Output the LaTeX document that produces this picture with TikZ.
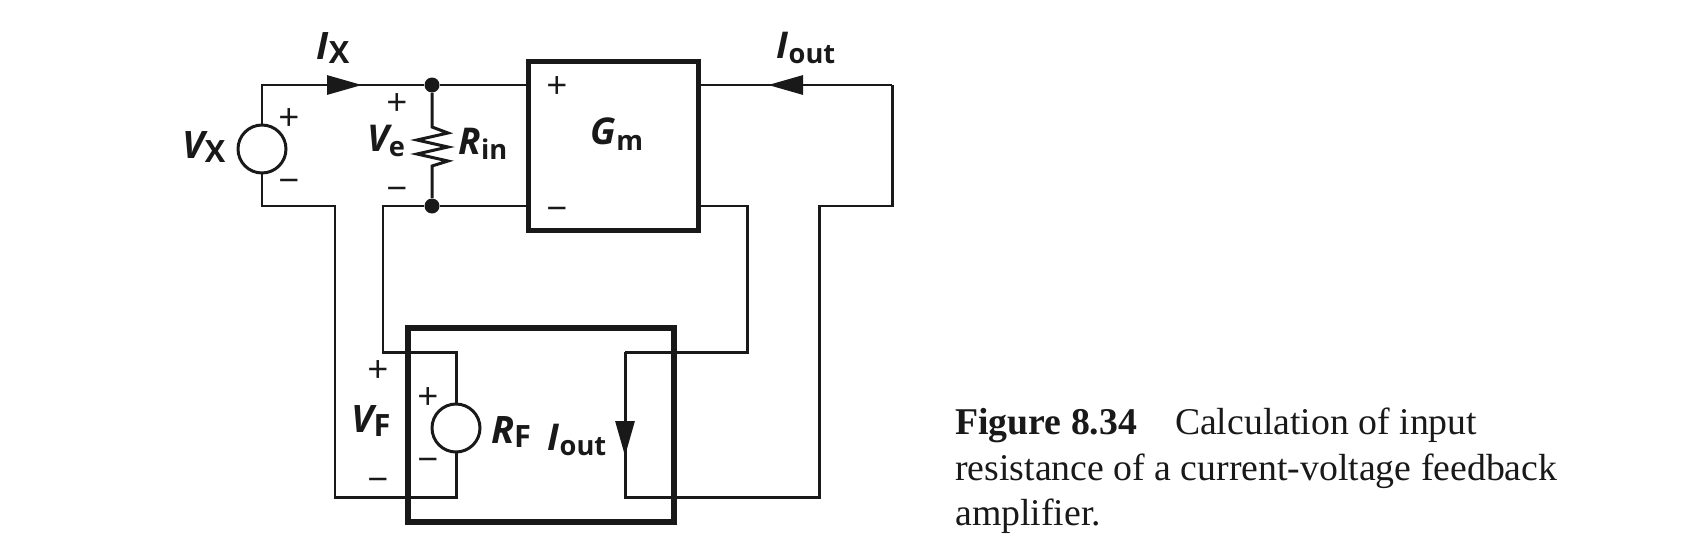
\documentclass[tikz,border=0pt]{standalone}
\usepackage{fontspec}
\setmainfont{Liberation Serif}
\newfontfamily\labelfont{Open Sans}
\usetikzlibrary{arrows.meta}

\newcommand{\symlabel}[2]{{\fontsize{21.5}{21.5}\selectfont\labelfont\bfseries\itshape #1}\raisebox{-0.28em}{\fontsize{17.5}{17.5}\selectfont\labelfont\bfseries #2}}
\newcommand{\symlabellow}[2]{{\fontsize{21}{21}\selectfont\labelfont\bfseries\itshape #1}\raisebox{-0.3em}{\fontsize{15.5}{15.5}\selectfont\labelfont\bfseries #2}}

\tikzstyle{wire} = [line width=1.7pt, line join=miter]
\tikzstyle{arrow} = [wire, -{Triangle[length=0.7cm,width=0.38cm]}]
\tikzstyle{block} = [rectangle, draw=black!90, line width=2.9pt]
\tikzstyle{srccircle} = [circle, draw=black!90, line width=1.7pt, minimum size=0.96cm, inner sep=0pt]
\tikzstyle{joint} = [circle, fill=black!90, minimum size=0.3cm, inner sep=0pt]
\tikzstyle{symname} = [inner sep=0pt, text=black!90]
\tikzstyle{signlabel} = [inner sep=0pt, text=black!90, font=\fontsize{21}{21}\selectfont\labelfont]

\begin{document}
\begin{tikzpicture}[x=0.02cm, y=-0.02cm, black!90]
\useasboundingbox (0,0) rectangle (1686,558);

\node (gm) [block, minimum width=3.4cm, minimum height=3.38cm] at (613.5,146) {};

\node (fb) [block, minimum width=5.32cm, minimum height=3.88cm] at (541,425) {};

\node (vx) [srccircle] at (262,149) {};

\node (rf) [srccircle] at (456,428) {};

\node (dot1) [joint] at (432,85) {};

\node (dot2) [joint] at (432,206) {};

\coordinate (ixtip) at (362,85);
\coordinate (ixback) at (320,85);
\coordinate (outtip) at (768,85);
\coordinate (outback) at (810,85);
\coordinate (fbtip) at (625,456);
\coordinate (fbback) at (625,410);
\coordinate (vxlow) at (335,206);
\coordinate (vxdown) at (335,497.5);
\coordinate (inlow) at (383,206);
\coordinate (indown) at (383,352);
\coordinate (outtop) at (892,85);
\coordinate (outlow) at (892,206);
\coordinate (outleft) at (819,206);
\coordinate (outdown) at (819,497.5);
\coordinate (fbdown) at (625,497.5);
\coordinate (fbtop) at (625,352);
\coordinate (gmright) at (747,206);
\coordinate (gmdown) at (747,352);
\coordinate (rintop) at (432,127);

\draw [wire] (vx.north) |- (dot1);

\draw [arrow] (ixback) -- (ixtip);

\draw [wire] (dot1) -- (dot1 -| gm.west);

\draw [wire] (dot2) -- (dot2 -| gm.west);

\draw [wire] (dot1) -- (rintop) -- ++(16,6) -- ++(-31,7) -- ++(31,7) -- ++(-31,7) -- ++(31,7) -- ++(-16,5) -- (dot2);

\draw [wire] (vx.south) |- (vxlow) -- (vxdown) -| (rf.south);

\draw [wire] (dot2) -- (inlow) -- (indown) -| (rf.north);

\draw [wire] (outtop) -- (outtop -| gm.east);

\draw [arrow] (outback) -- (outtip);

\draw [wire] (outtop) -- (outlow) -- (outleft) -- (outdown) -- (fbdown) -- (fbtop);

\draw [arrow] (fbback) -- (fbtip);

\draw [wire] (gmright -| gm.east) -- (gmright) -- (gmdown) -- (fbtop);

\node (vxname) [symname] at (204,147) {\symlabel{V}{X}};

\node (ixname) [symname] at (333,48) {\symlabel{I}{X}};

\node (vename) [symname] at (386,141) {\symlabellow{V}{e}};

\node (rinname) [symname] at (483,144) {\symlabellow{R}{in}};

\node (gmname) [symname] at (617,134) {\symlabellow{G}{m}};

\node (outname) [symname] at (806,48) {\symlabellow{I}{out}};

\node (vfname) [symname] at (371,421) {\symlabel{V}{F}};

\node (rfname) [symname] at (511,432) {\symlabel{R}{F}};

\node (fboutname) [symname] at (577,440) {\symlabellow{I}{out}};

\node (vxplus) [signlabel] at (289,120) {+};
\node (vxminus) [signlabel] at (289,186) {\symbol{"2212}};
\node (veplus) [signlabel] at (397,105) {+};
\node (veminus) [signlabel] at (397,194) {\symbol{"2212}};
\node (gmplus) [signlabel] at (557,88) {+};
\node (gmminus) [signlabel] at (557,214) {\symbol{"2212}};
\node (vfplus) [signlabel] at (378,372) {+};
\node (vfminus) [signlabel] at (378,485) {\symbol{"2212}};
\node (rfplus) [signlabel] at (428,399) {+};
\node (rfminus) [signlabel] at (428,465) {\symbol{"2212}};

\node (caption) [symname, anchor=west, align=left, font=\fontsize{21.5}{26}\selectfont] at (955,471) {\textbf{Figure 8.34}\quad Calculation of input\\resistance of a current-voltage feedback\\amplifier.};

\end{tikzpicture}
\end{document}
